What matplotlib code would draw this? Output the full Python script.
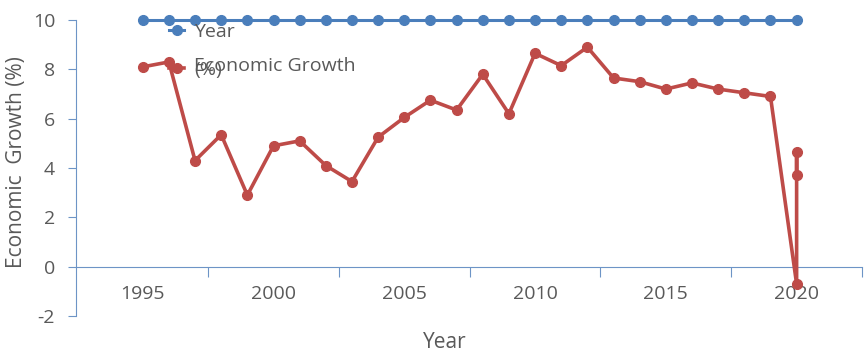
import matplotlib.pyplot as plt
from matplotlib.ticker import FixedLocator, FixedFormatter, NullFormatter

# data
years = [1995, 1996, 1997, 1998, 1999, 2000, 2001, 2002, 2003, 2004, 2005, 2006, 2007,
         2008, 2009, 2010, 2011, 2012, 2013, 2014, 2015, 2016, 2017, 2018, 2019, 2020]
year_series = [10, 10, 10, 10, 10, 10, 10, 10, 10, 10, 10, 10, 10,
               10, 10, 10, 10, 10, 10, 10, 10, 10, 10, 10, 10, 10]
growth_years = [1995, 1996, 1997, 1998, 1999, 2000, 2001, 2002, 2003, 2004, 2005, 2006, 2007,
                2008, 2009, 2010, 2011, 2012, 2013, 2014, 2015, 2016, 2017, 2018, 2019,
                2020, 2020, 2020]
growth = [8.1, 8.3, 4.3, 5.35, 2.9, 4.9, 5.1, 4.1, 3.45, 5.25, 6.05, 6.75, 6.35,
          7.8, 6.2, 8.65, 8.15, 8.9, 7.65, 7.5, 7.2, 7.45, 7.2, 7.05, 6.9,
          -0.7, 4.65, 3.7]
label_years = [1995, 2000, 2005, 2010, 2015, 2020]
y_ticks = [-2, 0, 2, 4, 6, 8, 10]

blue = '#4a7ebb'
red = '#be4b48'
axis_col = '#6d94c6'
text_col = '#595959'
plt.rcParams['font.family'] = ['Open Sans', 'DejaVu Sans']
plt.rcParams['axes.unicode_minus'] = False

fig = plt.figure(figsize=(8.68, 3.53), dpi=100)
ax = fig.add_axes([0.0876, 0.1048, 0.9055, 0.8385])

ax.plot(years, year_series, color=blue, lw=2.2, marker='o', ms=7, clip_on=False,
        label='Year', zorder=3)
ax.plot(growth_years, growth, color=red, lw=2.6, marker='o', ms=7, clip_on=False,
        label='Economic Growth\n(%)', zorder=3)

ax.set_xlim(1992.45, 2022.5)
ax.set_ylim(-2, 10)

for s in ['top', 'right']:
    ax.spines[s].set_visible(False)
ax.spines['bottom'].set_position(('data', 0))
ax.spines['bottom'].set_color(axis_col)
ax.spines['left'].set_color(axis_col)

# ticks between the year labels, labels carried on minor ticks
ax.xaxis.set_major_locator(FixedLocator([1997.5, 2002.5, 2007.5, 2012.5, 2017.5, 2022.5]))
ax.xaxis.set_major_formatter(NullFormatter())
ax.xaxis.set_minor_locator(FixedLocator(label_years))
ax.xaxis.set_minor_formatter(FixedFormatter([str(y) for y in label_years]))
ax.tick_params(axis='x', which='major', direction='out', length=7, color=axis_col)
ax.tick_params(axis='x', which='minor', length=0, pad=13, labelsize=14, labelcolor=text_col)
ax.set_yticks(y_ticks)
ax.tick_params(axis='y', direction='out', length=6, color=axis_col, labelsize=14,
               labelcolor=text_col, pad=9)

ax.set_xlabel('Year', fontsize=15, color=text_col)
ax.xaxis.set_label_coords(0.469, -0.055)
ax.set_ylabel('Economic  Growth (%)', fontsize=15, color=text_col)
ax.yaxis.set_label_coords(-0.062, 0.52)

leg = ax.legend(loc='upper left', bbox_to_anchor=(159 / 868, 1 - 13 / 353),
                bbox_transform=fig.transFigure, frameon=False, fontsize=14,
                handlelength=0.8, handletextpad=0.5, labelspacing=0.85, borderpad=0)
for t in leg.get_texts():
    t.set_color(text_col)
leg.get_texts()[1].set_linespacing(0.0)

fig.savefig('out.png', dpi=100)
